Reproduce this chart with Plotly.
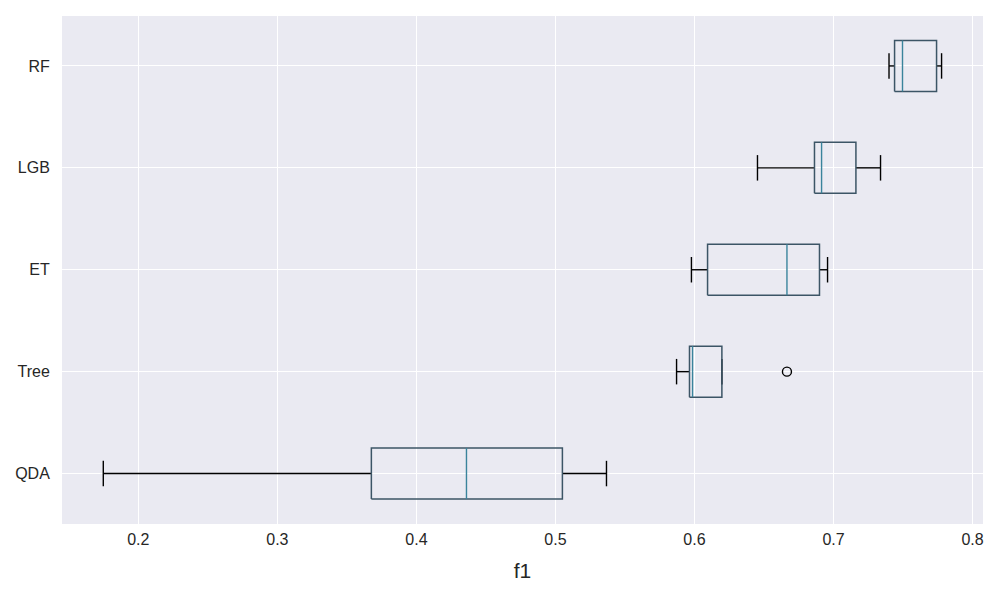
import plotly.graph_objects as go

# ---- data ----
categories = ["QDA", "Tree", "ET", "LGB", "RF"]
whis_lo = [0.1748, 0.5871, 0.5978, 0.6453, 0.7399]
q1 = [0.3676, 0.5964, 0.6094, 0.6863, 0.7439]
median = [0.4360, 0.5986, 0.6665, 0.6914, 0.7496]
q3 = [0.5050, 0.6197, 0.6899, 0.7161, 0.7741]
whis_hi = [0.5367, 0.6197, 0.6957, 0.7338, 0.7777]
outlier_cat = ["Tree"]
outlier_val = [0.6665]

# ---- styling ----
BOX_COLOR = "#3c5566"
MED_COLOR = "#3a849c"
BG = "#EAEAF2"
FONT = "Liberation Sans, Arial, sans-serif"
BOX_HALF = 0.25
CAP_HALF = 0.125

pos = list(range(len(categories)))

box_x, box_y = [], []
med_x, med_y = [], []
whisk_x, whisk_y = [], []
for i, p in enumerate(pos):
    box_x += [q1[i], q3[i], q3[i], q1[i], q1[i], None]
    box_y += [p - BOX_HALF, p - BOX_HALF, p + BOX_HALF, p + BOX_HALF, p - BOX_HALF, None]
    med_x += [median[i], median[i], None]
    med_y += [p - BOX_HALF, p + BOX_HALF, None]
    # whiskers
    whisk_x += [whis_lo[i], q1[i], None, q3[i], whis_hi[i], None]
    whisk_y += [p, p, None, p, p, None]
    # caps
    whisk_x += [whis_lo[i], whis_lo[i], None, whis_hi[i], whis_hi[i], None]
    whisk_y += [p - CAP_HALF, p + CAP_HALF, None, p - CAP_HALF, p + CAP_HALF, None]

fig = go.Figure()
fig.add_trace(go.Scatter(x=whisk_x, y=whisk_y, mode="lines",
                         line=dict(color="black", width=1.4), hoverinfo="skip", showlegend=False))
fig.add_trace(go.Scatter(x=box_x, y=box_y, mode="lines",
                         line=dict(color=BOX_COLOR, width=1.5), hoverinfo="skip", showlegend=False))
fig.add_trace(go.Scatter(x=med_x, y=med_y, mode="lines",
                         line=dict(color=MED_COLOR, width=1.4), hoverinfo="skip", showlegend=False))
fig.add_trace(go.Scatter(x=outlier_val, y=[categories.index(c) for c in outlier_cat], mode="markers",
                         marker=dict(symbol="circle-open", size=9, color="black", line=dict(width=1.4)),
                         showlegend=False))

# page body has an 8px margin, so the figure is 992x592 and shifted accordingly
fig.update_layout(
    width=992, height=592,
    margin=dict(l=54, r=17, t=8, b=76),
    plot_bgcolor=BG, paper_bgcolor="white",
    font=dict(family=FONT, color="#262626", size=16),
    showlegend=False,
)
fig.update_xaxes(
    range=[0.1451, 0.8075],
    tickvals=[0.2, 0.3, 0.4, 0.5, 0.6, 0.7, 0.8],
    ticktext=["0.2", "0.3", "0.4", "0.5", "0.6", "0.7", "0.8"],
    showgrid=True, gridcolor="white", gridwidth=1.2,
    zeroline=False, showline=False,
    ticks="outside", ticklen=1, tickcolor="rgba(0,0,0,0)",
    tickfont=dict(size=16, color="#262626"),
    title=dict(text="f1", font=dict(size=21, color="#262626"), standoff=16),
)
fig.update_yaxes(
    range=[-0.495, 4.49],
    tickvals=pos, ticktext=categories,
    showgrid=True, gridcolor="white", gridwidth=1.2,
    zeroline=False, showline=False,
    ticks="outside", ticklen=8, tickcolor="rgba(0,0,0,0)",
    tickfont=dict(size=16, color="#262626"),
)

fig.write_html("out.html", config={"displayModeBar": False})
